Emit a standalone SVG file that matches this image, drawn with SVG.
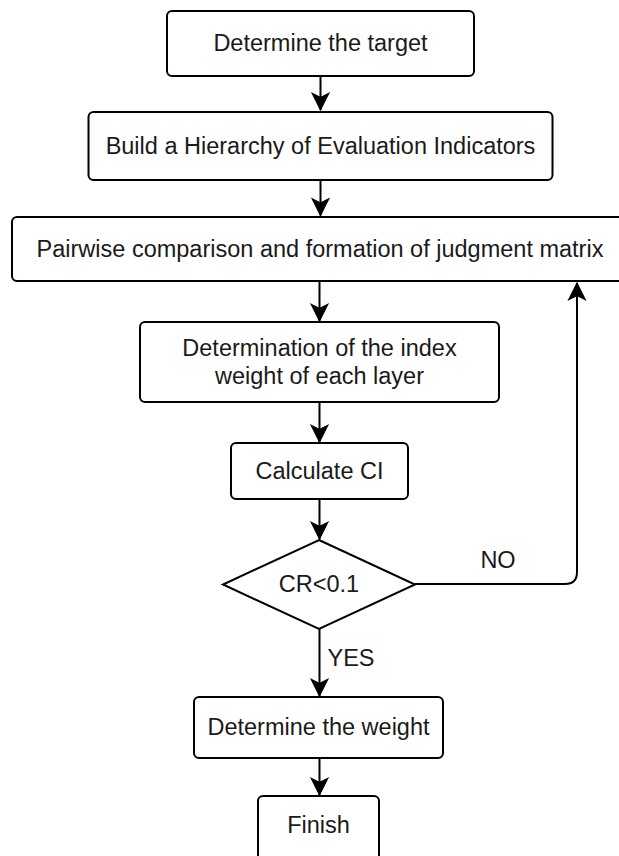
<svg xmlns="http://www.w3.org/2000/svg" width="619" height="856" viewBox="0 0 619 856">
<defs>
<style>
.box{fill:#fff;stroke:#000;stroke-width:2}
.t{font-family:"Liberation Sans",Arial,sans-serif;font-size:23.5px;fill:#1a1a1a;text-anchor:middle}
.c{fill:none;stroke:#000;stroke-width:2}
</style>
<marker id="arr" markerUnits="userSpaceOnUse" markerWidth="20" markerHeight="20" viewBox="-17 -9 19 18" refX="0" refY="0" orient="auto" overflow="visible">
<path d="M0,0 L-16,-8 L-12,0 L-16,8 Z" fill="#000" stroke="#000" stroke-width="1"/>
</marker>
</defs>
<rect width="619" height="856" fill="#fff"/>
<g id="connectors">
<path class="c" d="M320.5,76 V110" marker-end="url(#arr)"/>
<path class="c" d="M320.5,180 V215.5" marker-end="url(#arr)"/>
<path class="c" d="M319.5,281 V321" marker-end="url(#arr)"/>
<path class="c" d="M319.5,402 V442" marker-end="url(#arr)"/>
<path class="c" d="M319.5,499 V539" marker-end="url(#arr)"/>
<path class="c" d="M319.5,629 V696" marker-end="url(#arr)"/>
<path class="c" d="M319.5,758 V795" marker-end="url(#arr)"/>
<path class="c" d="M415,584 H565 Q577,584 577,572 V283" marker-end="url(#arr)"/>
<text class="t" x="498" y="568">NO</text>
<text class="t" x="351" y="666">YES</text>
</g>
<g id="n1"><rect class="box" x="167" y="11" width="307" height="65" rx="5"/><text class="t" x="320.5" y="51">Determine the target</text></g>
<g id="n2"><rect class="box" x="88.5" y="112" width="464" height="68" rx="5"/><text class="t" x="320.5" y="154">Build a Hierarchy of Evaluation Indicators</text></g>
<g id="n3"><rect class="box" x="12" y="217" width="616" height="64" rx="5"/><text class="t" x="320" y="257">Pairwise comparison and formation of judgment matrix</text></g>
<g id="n4"><rect class="box" x="140" y="322" width="359" height="80" rx="5"/><text class="t" x="319.5" y="356">Determination of the index</text><text class="t" x="319.5" y="384">weight of each layer</text></g>
<g id="n5"><rect class="box" x="231" y="443" width="177" height="56" rx="5"/><text class="t" x="319.5" y="479">Calculate CI</text></g>
<g id="n6"><path class="box" d="M319,540 L415,584.5 L319,629 L223,584.5 Z"/><text class="t" x="319" y="592">CR&lt;0.1</text></g>
<g id="n7"><rect class="box" x="194" y="697" width="249" height="61" rx="5"/><text class="t" x="318.5" y="735">Determine the weight</text></g>
<g id="n8"><rect class="box" x="258" y="796" width="121" height="80" rx="5"/><text class="t" x="318.5" y="833">Finish</text></g>
</svg>
